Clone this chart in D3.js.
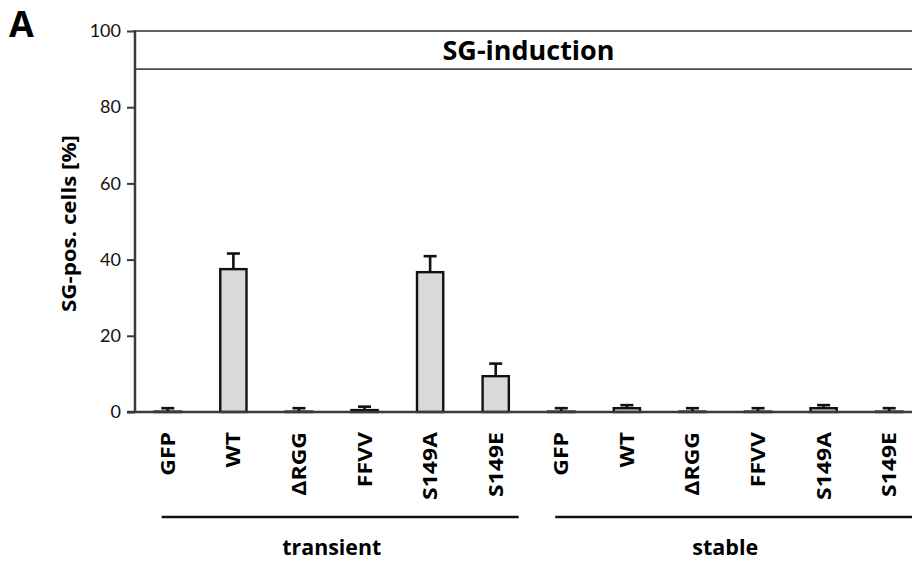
<!DOCTYPE html>
<html>
<head>
<meta charset="utf-8">
<script src="https://cdn.jsdelivr.net/npm/d3@7"></script>
<style>
  body { margin: 0; background: #fff; }
  svg { display: block; font-family: "Open Sans", Lato, sans-serif; }
</style>
</head>
<body>
<svg id="chart" width="912" height="566"></svg>
<script>
'use strict'

const categories = ['GFP', 'WT', '\u0394RGG', 'FFVV', 'S149A', 'S149E'];
const groups = ['transient', 'stable'];
const transientMeans = [0.1, 37.5, 0.1, 0.5, 36.7, 9.4];
const transientErrors = [0.9, 4.1, 0.9, 0.9, 4.2, 3.3];
const stableMeans = [0.1, 1.0, 0.1, 0.1, 1.0, 0.1];
const stableErrors = [0.9, 0.8, 0.9, 0.9, 0.8, 0.9];
const yTicks = [0, 20, 40, 60, 80, 100];
const panelTitle = 'SG-induction';
const yLabel = 'SG-pos. cells [%]';

const rows = [];
groups.forEach((g, gi) => {
  const means = gi === 0 ? transientMeans : stableMeans;
  const errs = gi === 0 ? transientErrors : stableErrors;
  categories.forEach((c, i) => {
    rows.push({ key: g + '-' + c, group: g, label: c, mean: means[i], err: errs[i] });
  });
});

const svg = d3.select('#chart');
const axisColor = '#3a3a3a';

const x = d3.scaleBand()
  .domain(rows.map(d => d.key))
  .range([135, 922])
  .paddingInner(0.6)
  .paddingOuter(0.3);

const y = d3.scaleLinear()
  .domain([0, 100])
  .range([412, 31]);

// title box between 90 and 100
svg.append('rect')
  .attr('x', x.range()[0])
  .attr('y', y(100))
  .attr('width', x.range()[1] - x.range()[0])
  .attr('height', y(90) - y(100))
  .attr('fill', 'none')
  .attr('stroke', axisColor)
  .attr('stroke-width', 1.6);

svg.append('text')
  .attr('x', (x.range()[0] + x.range()[1]) / 2)
  .attr('y', 60)
  .attr('text-anchor', 'middle')
  .attr('font-size', 27)
  .attr('font-weight', 700)
  .attr('textLength', 172)
  .attr('lengthAdjust', 'spacingAndGlyphs')
  .text(panelTitle);

// bars
svg.append('g')
  .selectAll('rect')
  .data(rows)
  .join('rect')
    .attr('x', d => x(d.key))
    .attr('y', d => y(d.mean))
    .attr('width', x.bandwidth())
    .attr('height', d => y(0) - y(d.mean))
    .attr('fill', '#d9d9d9')
    .attr('stroke', '#111')
    .attr('stroke-width', 2.4);

// upper error bars
const errG = svg.append('g').attr('stroke', '#111').attr('stroke-width', 2.6);
errG.selectAll('line.stem')
  .data(rows)
  .join('line')
    .attr('class', 'stem')
    .attr('x1', d => x(d.key) + x.bandwidth() / 2)
    .attr('x2', d => x(d.key) + x.bandwidth() / 2)
    .attr('y1', d => y(d.mean))
    .attr('y2', d => y(d.mean + d.err));
errG.selectAll('line.cap')
  .data(rows)
  .join('line')
    .attr('class', 'cap')
    .attr('x1', d => x(d.key) + x.bandwidth() / 2 - 6.5)
    .attr('x2', d => x(d.key) + x.bandwidth() / 2 + 6.5)
    .attr('y1', d => y(d.mean + d.err))
    .attr('y2', d => y(d.mean + d.err));

// y axis
const yAxis = svg.append('g')
  .attr('transform', 'translate(135,0)')
  .call(d3.axisLeft(y).tickValues(yTicks).tickSize(8).tickPadding(6));
yAxis.select('.domain').remove();
yAxis.selectAll('.tick line').attr('stroke', axisColor).attr('stroke-width', 2);
yAxis.selectAll('.tick text')
  .attr('font-family', 'Lato, sans-serif')
  .attr('font-size', 18)
  .attr('fill', '#111');

svg.append('line')
  .attr('x1', 135).attr('x2', 135)
  .attr('y1', y(100) - 1).attr('y2', y(0))
  .attr('stroke', axisColor)
  .attr('stroke-width', 2.5);

// x axis line
svg.append('line')
  .attr('x1', 127).attr('x2', x.range()[1])
  .attr('y1', y(0)).attr('y2', y(0))
  .attr('stroke', axisColor)
  .attr('stroke-width', 2.5);

// category labels, rotated
svg.append('g')
  .selectAll('text')
  .data(rows)
  .join('text')
    .attr('transform', d => 'translate(' + (x(d.key) + x.bandwidth() / 2 + 7) + ',432) rotate(-90) scale(1.15,1)')
    .attr('text-anchor', 'end')
    .attr('font-size', 20)
    .attr('font-weight', 700)
    .text(d => d.label);

// group lines and names
groups.forEach(g => {
  const keys = rows.filter(d => d.group === g).map(d => d.key);
  const first = x(keys[0]);
  const last = x(keys[keys.length - 1]);
  svg.append('line')
    .attr('x1', first + 7)
    .attr('x2', last + x.step() * 0.55)
    .attr('y1', 517).attr('y2', 517)
    .attr('stroke', '#111')
    .attr('stroke-width', 2.5);
  svg.append('text')
    .attr('x', (first + last + x.bandwidth()) / 2)
    .attr('y', 555)
    .attr('text-anchor', 'middle')
    .attr('font-size', 21)
    .attr('font-weight', 700)
    .attr('textLength', g === 'transient' ? 99 : 66)
    .attr('lengthAdjust', 'spacingAndGlyphs')
    .text(g);
});

// y axis title
svg.append('text')
  .attr('transform', 'translate(76,' + ((y(0) + y(100)) / 2 + 2) + ') rotate(-90)')
  .attr('text-anchor', 'middle')
  .attr('font-size', 20)
  .attr('font-weight', 700)
  .attr('textLength', 177)
  .attr('lengthAdjust', 'spacingAndGlyphs')
  .text(yLabel);

// panel letter
svg.append('text')
  .attr('x', 9)
  .attr('y', 37)
  .attr('font-size', 36)
  .attr('font-weight', 700)
  .text('A');
</script>
</body>
</html>
